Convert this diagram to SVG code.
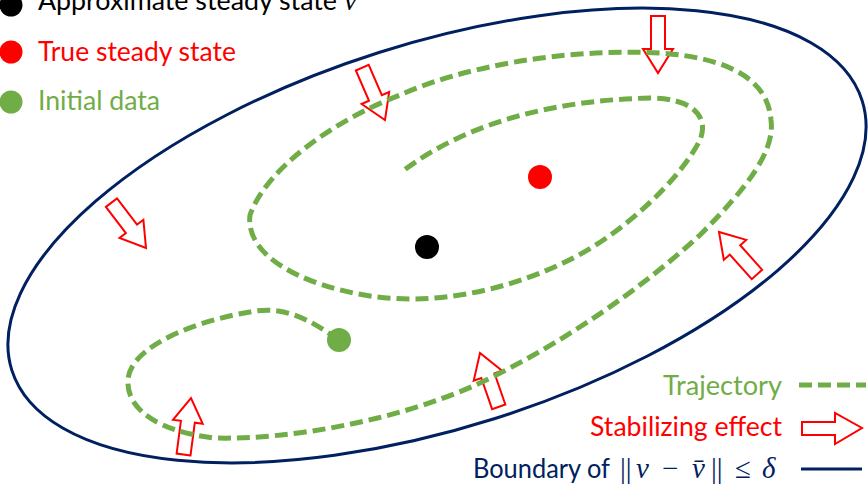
<svg xmlns="http://www.w3.org/2000/svg" xmlns:xlink="http://www.w3.org/1999/xlink" width="868" height="486" viewBox="0 0 868 486">
<style>
.lbl{font-family:Lato,"Open Sans","Liberation Sans",sans-serif;font-size:27px}
.math{font-family:"Liberation Serif","DejaVu Serif",serif;font-size:29px}
.it{font-style:italic}
.traj{fill:none;stroke:#70AD47;stroke-width:5;stroke-dasharray:13 6}
.arr{fill:#fff;stroke:#FF0000;stroke-width:2;stroke-linejoin:miter}
.bnd{fill:none;stroke:#002060;stroke-width:3}
</style>
<defs>
<path id="arrow" d="M-7,-57 L7,-57 L7,-24 L15,-24 L0,0 L-15,-24 L-7,-24 Z"/>
</defs>
<rect width="868" height="486" fill="#fff"/>
<g id="boundary">
<ellipse class="bnd" cx="437" cy="235.5" rx="446" ry="192" transform="rotate(-17.6 437 235.5)"/>
</g>
<g id="arrows">
<use xlink:href="#arrow" class="arr" transform="translate(658,73)"/>
<use xlink:href="#arrow" class="arr" transform="translate(385,120) rotate(-23.5)"/>
<use xlink:href="#arrow" class="arr" transform="translate(146,248) rotate(-37.3)"/>
<use xlink:href="#arrow" class="arr" transform="translate(719,232) rotate(138.2)"/>
<use xlink:href="#arrow" class="arr" transform="translate(480,353) rotate(160.8)"/>
<use xlink:href="#arrow" class="arr" transform="translate(191,398) rotate(187.5)"/>
</g>
<g id="connectors">
<path id="trajectory" class="traj" d="M339,340 C310,320 285,305 250,312 C200,320 130,345 128,380 C126,410 160,432 215,438 C290,440 400,420 480,383 C560,345 640,290 700,235 C750,185 775,150 771,120 C768,80 730,58 660,53 C560,48 460,68 400,95 C340,118 268,165 250,215 C245,255 300,285 370,296 C430,305 500,293 563,263 C620,237 680,180 700,140 C710,115 690,98 650,98 C560,100 470,120 403,171"/>
</g>
<g id="initial-data"><circle cx="339" cy="340" r="12" fill="#70AD47"/></g>
<g id="approx-steady-state"><circle cx="427" cy="247" r="12" fill="#000"/></g>
<g id="true-steady-state"><circle cx="540" cy="177" r="12" fill="#FF0000"/></g>
<g id="legend-top">
<circle cx="11" cy="5" r="11.5" fill="#000"/>
<text class="lbl" x="38" y="10" fill="#000" textLength="299" lengthAdjust="spacingAndGlyphs">Approximate steady state</text>
<text class="math it" x="344" y="10" fill="#000">v̄</text>
<circle cx="11" cy="52" r="11.5" fill="#FF0000"/>
<text class="lbl" x="38" y="61" fill="#FF0000" textLength="198" lengthAdjust="spacingAndGlyphs">True steady state</text>
<circle cx="11" cy="102" r="11.5" fill="#70AD47"/>
<text class="lbl" x="38" y="110" fill="#70AD47" textLength="122" lengthAdjust="spacingAndGlyphs">Initial data</text>
</g>
<g id="legend-bottom">
<text class="lbl" x="663" y="395" fill="#70AD47" textLength="119" lengthAdjust="spacingAndGlyphs">Trajectory</text>
<line class="traj" x1="799" y1="385" x2="866" y2="385"/>
<text class="lbl" x="590" y="436" fill="#FF0000" textLength="192" lengthAdjust="spacingAndGlyphs">Stabilizing effect</text>
<path class="arr" d="M802,422 L835,422 L835,413 L862,428 L835,444 L835,435 L802,435 Z"/>
<text class="lbl" x="473" y="478" fill="#002060" textLength="137" lengthAdjust="spacingAndGlyphs">Boundary of</text>
<text class="math" y="478" fill="#002060"><tspan x="620">||</tspan><tspan x="636" class="it">v</tspan><tspan x="662">−</tspan><tspan x="692" class="it">v̄</tspan><tspan x="711">||</tspan><tspan x="735">≤</tspan><tspan x="762" class="it">δ</tspan></text>
<line class="bnd" x1="801" y1="469" x2="862" y2="469"/>
</g>
</svg>
